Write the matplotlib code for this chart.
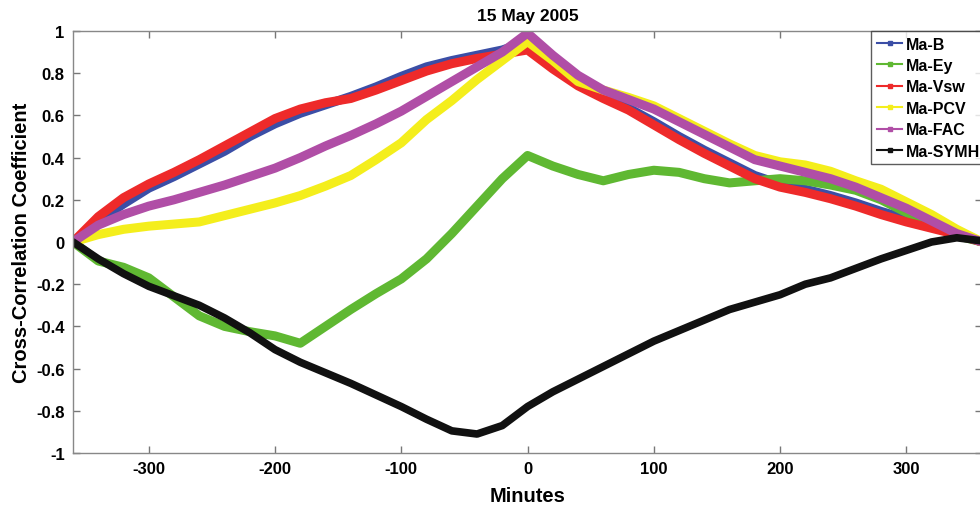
import numpy as np
import matplotlib
matplotlib.use('Agg')
from matplotlib import pyplot as plt
from matplotlib.lines import Line2D

plt.rcParams['font.family'] = ['Liberation Sans', 'DejaVu Sans']
plt.rcParams['font.weight'] = 'bold'
plt.rcParams['axes.unicode_minus'] = False

# lag in minutes
lags = np.arange(-360, 361, 20)

ma_b = [0, 0.10, 0.18, 0.255, 0.31, 0.37, 0.43, 0.50, 0.56, 0.61, 0.65, 0.69, 0.735, 0.785, 0.83,
        0.86, 0.885, 0.91, 0.95,
        0.83, 0.755, 0.69, 0.635, 0.57, 0.50, 0.435, 0.375, 0.315, 0.275, 0.25, 0.22, 0.185,
        0.145, 0.11, 0.075, 0.04, 0]
ma_ey = [0, -0.09, -0.12, -0.17, -0.26, -0.35, -0.40, -0.425, -0.445, -0.48, -0.40, -0.32, -0.245,
         -0.175, -0.08, 0.04, 0.17, 0.30, 0.41,
         0.36, 0.32, 0.29, 0.32, 0.34, 0.33, 0.30, 0.28, 0.29, 0.30, 0.29, 0.27, 0.245,
         0.20, 0.14, 0.08, 0.03, 0]
ma_vsw = [0, 0.12, 0.21, 0.275, 0.33, 0.39, 0.455, 0.52, 0.585, 0.63, 0.66, 0.68, 0.72, 0.765, 0.81,
          0.845, 0.87, 0.89, 0.91,
          0.82, 0.74, 0.68, 0.625, 0.555, 0.485, 0.42, 0.36, 0.30, 0.26, 0.235, 0.205, 0.17,
          0.13, 0.095, 0.065, 0.035, 0]
ma_pcv = [0, 0.035, 0.06, 0.075, 0.085, 0.095, 0.125, 0.155, 0.185, 0.22, 0.265, 0.315, 0.39, 0.47,
          0.58, 0.67, 0.77, 0.86, 0.95,
          0.86, 0.76, 0.72, 0.685, 0.645, 0.585, 0.525, 0.465, 0.41, 0.38, 0.365, 0.335, 0.29,
          0.25, 0.19, 0.13, 0.06, 0]
ma_fac = [0, 0.08, 0.13, 0.17, 0.20, 0.235, 0.27, 0.31, 0.35, 0.40, 0.455, 0.505, 0.56, 0.62, 0.69,
          0.76, 0.83, 0.90, 0.99,
          0.885, 0.79, 0.72, 0.675, 0.63, 0.57, 0.51, 0.45, 0.39, 0.36, 0.33, 0.30, 0.26,
          0.21, 0.16, 0.10, 0.04, 0]
ma_symh = [0, -0.08, -0.15, -0.21, -0.255, -0.30, -0.36, -0.43, -0.51, -0.57, -0.62, -0.67, -0.725,
           -0.78, -0.84, -0.895, -0.91, -0.87, -0.78,
           -0.71, -0.65, -0.59, -0.53, -0.47, -0.42, -0.37, -0.32, -0.285, -0.25, -0.20, -0.17,
           -0.125, -0.08, -0.04, 0.0, 0.02, 0.005]

names = ['Ma-B', 'Ma-Ey', 'Ma-Vsw', 'Ma-PCV', 'Ma-FAC', 'Ma-SYMH']
colors = ['#3b4ea6', '#5fb832', '#ee2a2a', '#f4ee1c', '#b04ea6', '#111111']
series = [ma_b, ma_ey, ma_vsw, ma_pcv, ma_fac, ma_symh]

fig = plt.figure(figsize=(9.8, 5.1), dpi=100)
ax = fig.add_axes([0.0745, 0.1098, 0.9276, 0.8275])

for s, c in zip(series, colors):
    lw = 5.5 if c == '#111111' else 6.5
    ax.plot(lags, s, color=c, lw=lw, solid_capstyle='round', solid_joinstyle='round')

ax.set_xlim(-360, 360)
ax.set_ylim(-1, 1)
ax.set_xticks([-300, -200, -100, 0, 100, 200, 300])
ax.set_yticks(np.arange(-1, 1.01, 0.2))
ax.set_yticklabels(['-1', '-0.8', '-0.6', '-0.4', '-0.2', '0', '0.2', '0.4', '0.6', '0.8', '1'])
ax.tick_params(direction='in', length=5, width=1, color='#777777', labelsize=12,
               top=True, right=True, pad=6)
for sp in ax.spines.values():
    sp.set_color('#888888')
    sp.set_linewidth(1)

ax.set_title('15 May 2005', fontsize=12.5, fontweight='bold', pad=8)
ax.set_xlabel('Minutes', fontsize=14.5, fontweight='bold', labelpad=7)
ax.set_ylabel('Cross-Correlation Coefficient', fontsize=14.5, fontweight='bold', labelpad=4)

handles = [Line2D([], [], color=c, lw=1.5, marker='s', markersize=3) for c in colors]
leg = ax.legend(handles, names, loc='upper left', bbox_to_anchor=(0.878, 1.0),
                borderaxespad=0, fontsize=11.5, frameon=True, fancybox=False,
                handlelength=1.6, handletextpad=0.2, labelspacing=0.4, borderpad=0.35)
leg.get_frame().set_edgecolor('#333333')
leg.get_frame().set_linewidth(1)

fig.savefig('out.png', dpi=100)
